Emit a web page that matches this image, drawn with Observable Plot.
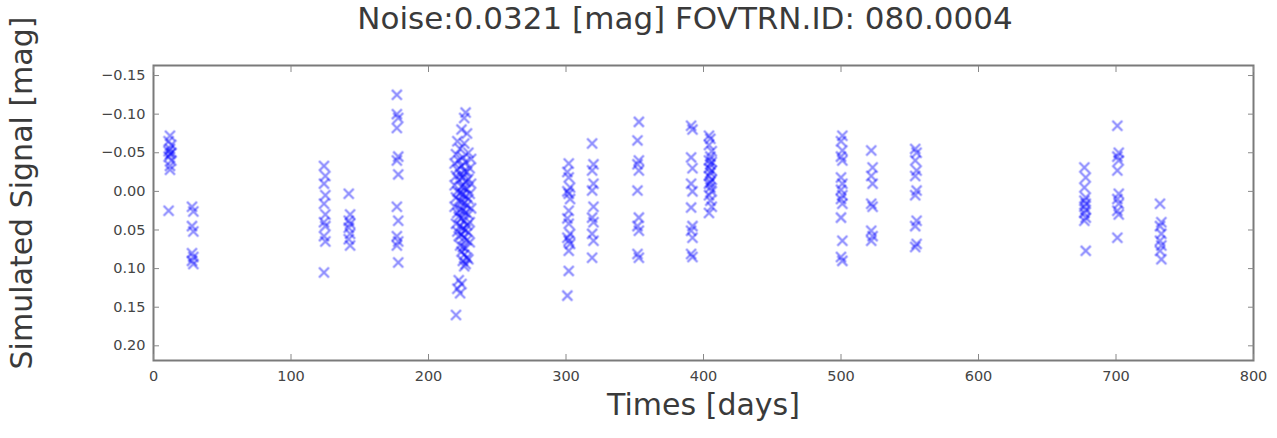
<!DOCTYPE html>
<html>
<head>
<meta charset="utf-8">
<script src="https://cdn.jsdelivr.net/npm/d3@7"></script>
<script src="https://cdn.jsdelivr.net/npm/@observablehq/plot@0.6"></script>
<style>
  html, body { margin: 0; padding: 0; background: #fff; }
  #wrap { position: relative; width: 1277px; height: 438px; overflow: hidden; font-family: "DejaVu Sans", sans-serif; }
  #title { position: absolute; top: 0px; left: 135px; width: 1100px; text-align: center; font-size: 31px; line-height: 36px; color: #3a3a3a; white-space: nowrap; }
  #chart { position: absolute; top: 0; left: 0; }
</style>
</head>
<body>
<div id="wrap">
  <div id="chart"></div>
  <div id="title"></div>
</div>
<script>
const titleText = "Noise:0.0321 [mag] FOVTRN.ID: 080.0004";
const xLabel = "Times [days]";
const yLabel = "Simulated Signal [mag]";
const xTicks = [0, 100, 200, 300, 400, 500, 600, 700, 800];
const yTicks = [-0.15, -0.10, -0.05, 0.00, 0.05, 0.10, 0.15, 0.20];

// observation times [days], grouped by observing season
const times = [
  12,11,13,12,11,13,12,11,13,12,12,11,
  28,29,28,29,28,29,28,29,
  124,125,124,125,124,125,124,125,124,125,124,
  142,143,142,143,142,143,142,143,
  177,177,178,177,178,177,178,177,178,177,178,177,178,
  227,226,224,228,221,226,223,229,220,225,
  231,222,227,219,224,230,221,226,228,223,
  220,225,229,222,227,231,219,224,226,228,
  221,223,230,225,227,220,229,222,224,226,
  228,219,231,223,225,227,221,229,222,224,
  226,230,220,228,223,225,227,221,229,224,
  222,226,228,230,223,225,227,224,226,228,
  229,225,227,226,222,224,221,223,220,
  302,301,302,303,301,302,303,302,301,302,303,301,302,303,302,302,301,
  319,320,319,320,319,320,319,320,319,320,319,
  353,352,353,352,353,352,353,352,353,352,353,
  391,392,391,392,391,392,391,392,391,392,391,392,
  404,405,404,406,405,404,406,405,404,406,405,404,406,405,404,405,406,404,405,406,404,
  501,500,501,500,501,500,501,500,501,500,501,500,501,500,501,
  522,523,522,523,522,523,522,523,522,
  554,555,554,555,554,555,554,555,554,555,554,
  677,678,677,678,677,678,677,678,677,678,677,678,
  701,702,701,702,701,702,701,702,701,702,701,
  732,733,732,733,732,733,732,733
];

// simulated signal [mag]
const signal = [
  -0.072,-0.065,-0.060,-0.055,-0.052,-0.050,-0.048,-0.045,-0.040,-0.033,-0.028,0.025,
  0.020,0.026,0.045,0.052,0.080,0.085,0.090,0.094,
  -0.033,-0.020,-0.010,0.005,0.016,0.030,0.040,0.045,0.058,0.065,0.105,
  0.003,0.030,0.038,0.042,0.047,0.055,0.062,0.070,
  -0.125,-0.100,-0.095,-0.082,-0.045,-0.040,-0.022,0.020,0.038,0.058,0.065,0.070,0.092,
  -0.102,-0.095,-0.080,-0.075,-0.065,-0.062,-0.055,-0.050,-0.048,-0.044,
  -0.042,-0.040,-0.038,-0.036,-0.033,-0.030,-0.028,-0.026,-0.025,-0.022,
  -0.020,-0.018,-0.016,-0.015,-0.012,-0.010,-0.008,-0.006,-0.005,-0.003,
  0.000,0.002,0.003,0.004,0.006,0.008,0.010,0.012,0.014,0.015,
  0.018,0.020,0.022,0.024,0.025,0.027,0.028,0.030,0.033,0.035,
  0.038,0.040,0.042,0.044,0.045,0.048,0.050,0.052,0.053,0.056,
  0.058,0.060,0.063,0.066,0.070,0.072,0.074,0.078,0.082,0.086,
  0.088,0.090,0.094,0.097,0.115,0.120,0.126,0.132,0.160,
  -0.036,-0.025,-0.018,-0.005,0.000,0.003,0.010,0.025,0.035,0.042,0.055,0.060,0.064,0.068,0.077,0.103,0.135,
  -0.062,-0.035,-0.027,-0.010,-0.001,0.020,0.034,0.040,0.055,0.064,0.086,
  -0.090,-0.066,-0.040,-0.035,-0.027,-0.001,0.034,0.045,0.051,0.081,0.086,
  -0.085,-0.080,-0.044,-0.030,-0.010,0.000,0.021,0.045,0.051,0.060,0.081,0.085,
  -0.072,-0.068,-0.060,-0.052,-0.045,-0.040,-0.038,-0.035,-0.030,-0.027,-0.024,-0.020,-0.015,-0.012,-0.010,-0.005,0.000,0.005,0.012,0.020,0.028,
  -0.072,-0.065,-0.053,-0.045,-0.040,-0.018,-0.010,-0.002,0.005,0.010,0.016,0.034,0.064,0.085,0.090,
  -0.053,-0.031,-0.020,-0.010,0.016,0.020,0.051,0.058,0.064,
  -0.055,-0.050,-0.040,-0.027,-0.020,-0.001,0.005,0.038,0.045,0.068,0.072,
  -0.031,-0.018,-0.005,0.008,0.012,0.016,0.020,0.024,0.028,0.034,0.038,0.077,
  -0.085,-0.050,-0.045,-0.040,-0.027,0.003,0.010,0.016,0.025,0.030,0.060,
  0.016,0.040,0.045,0.055,0.064,0.070,0.077,0.088
];

const data = times.map((t, i) => ({t, v: signal[i]}));
const fmtY = d3.format(".2f");
const blank = () => "";

const chart = Plot.plot({
  width: 1277,
  height: 438,
  marginLeft: 153,
  marginRight: 24,
  marginTop: 65,
  marginBottom: 78,
  style: {fontFamily: "DejaVu Sans, sans-serif", color: "#444", background: "#fff"},
  x: {domain: [0, 800]},
  y: {domain: [0.219, -0.163]},
  marks: [
    Plot.dot(data, {x: "t", y: "v", symbol: "times", r: 4.6, stroke: "#0000ff", strokeOpacity: 0.45, strokeWidth: 2.2}),
    Plot.frame({stroke: "#7a7a7a", strokeWidth: 2}),
    Plot.axisY({ticks: yTicks, tickSize: 0, tickPadding: 8, tickFormat: fmtY, fontSize: 14.5, label: null}),
    Plot.axisY({ticks: yTicks, tickSize: -6, tickFormat: blank, label: null, stroke: "#888"}),
    Plot.axisY({anchor: "right", ticks: yTicks, tickSize: -6, tickFormat: blank, label: null, stroke: "#888"}),
    Plot.axisX({ticks: xTicks, tickSize: 0, tickPadding: 10, tickFormat: d3.format("d"), fontSize: 14.5, label: null}),
    Plot.axisX({ticks: xTicks, tickSize: -6, tickFormat: blank, label: null, stroke: "#888"}),
    Plot.axisX({anchor: "top", ticks: xTicks, tickSize: -6, tickFormat: blank, label: null, stroke: "#888"}),
    Plot.text([xLabel], {frameAnchor: "bottom", dy: 54, fontSize: 30, fill: "#3a3a3a", text: d => d}),
    Plot.text([yLabel], {frameAnchor: "left", textAnchor: "middle", rotate: -90, dx: -131, dy: -20, fontSize: 30, fill: "#3a3a3a", text: d => d})
  ]
});
const dots = chart.querySelector('g[aria-label="dot"]');
if (dots) dots.style.filter = "blur(0.7px)";
document.getElementById("chart").appendChild(chart);
document.getElementById("title").textContent = titleText;
</script>
</body>
</html>
